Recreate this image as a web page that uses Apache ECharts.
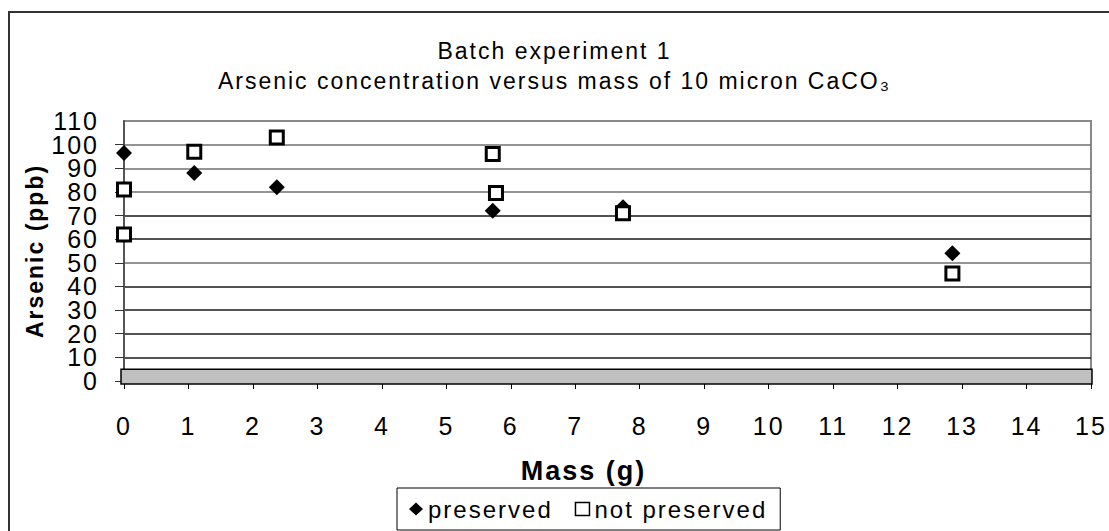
<!DOCTYPE html>
<html>
<head>
<meta charset="utf-8">
<script src="https://cdn.jsdelivr.net/npm/echarts@6/dist/echarts.min.js"></script>
<style>
  html, body { margin: 0; padding: 0; background: #fff; }
  #chart { width: 1109px; height: 531px; }
  /* Excel rendered the text with some extra tracking */
  #chart text { letter-spacing: 2px; }
</style>
</head>
<body>
<div id="chart"></div>
<script>
// masses (g) and arsenic (ppb)
const preservedMass = [0, 1.09, 2.37, 5.72, 7.74, 12.85];
const preservedArsenic = [96.5, 88, 82, 72, 73.5, 54];
const notPreservedMass = [0, 0, 1.09, 2.37, 5.72, 5.77, 7.74, 12.85];
const notPreservedArsenic = [81, 62, 97, 103, 96, 79.5, 71, 45.5];

const FONT = '"Liberation Sans", Arial, sans-serif';

function pairs(xs, ys) {
  return xs.map((x, i) => [x, ys[i]]);
}

const chart = echarts.init(document.getElementById('chart'), null, { renderer: 'svg' });

const titleStyle = {
  fontFamily: FONT, fontSize: 23, fontWeight: 'normal', color: '#000',
};

// the y labels sit closer than echarts allows, so even and odd ones go on two stacked axes
const yLabelStyle = {
  fontFamily: FONT,
  fontSize: 25,
  color: '#000',
  margin: 25,
  lineHeight: 20,
  padding: [6, 0, 0, 0],
};

const option = {
  animation: false,
  backgroundColor: '#fff',
  textStyle: { fontFamily: FONT, color: '#000' },
  title: [
    {
      text: 'Batch experiment 1',
      left: 'center',
      top: 34,
      padding: [5, 20, 5, 0],
      textStyle: titleStyle,
    },
    {
      text: 'Arsenic concentration versus mass of 10 micron CaCO₃',
      left: 'center',
      top: 64,
      padding: [5, 20, 5, 0],
      textStyle: titleStyle,
    },
  ],
  grid: {
    left: 124,
    right: 18,
    top: 121,
    bottom: 150,
    show: true,
    borderColor: '#8a8a8a',
    borderWidth: 2,
  },
  xAxis: {
    type: 'value',
    min: 0,
    max: 15,
    interval: 1,
    name: 'Mass (g)',
    nameLocation: 'middle',
    nameGap: 76,
    nameTextStyle: {
      fontFamily: FONT, fontSize: 27, fontWeight: 'bold', color: '#000', padding: [0, 48, 0, 0],
    },
    axisLine: { lineStyle: { color: '#000', width: 1 } },
    axisTick: { length: 8, lineStyle: { color: '#000' } },
    axisLabel: {
      fontFamily: FONT,
      fontSize: 25,
      color: '#000',
      margin: 32,
      showMinLabel: true,
      showMaxLabel: true,
    },
    splitLine: { show: false },
  },
  yAxis: [
    {
      type: 'value',
      position: 'left',
      min: 0,
      max: 110,
      interval: 10,
      name: 'Arsenic (ppb)',
      nameLocation: 'middle',
      nameGap: 74,
      nameRotate: 90,
      nameTextStyle: { fontFamily: FONT, fontSize: 23, fontWeight: 'bold', color: '#000' },
      axisLine: { show: true, lineStyle: { color: '#555', width: 2 } },
      axisTick: { show: true, length: 9, lineStyle: { color: '#333' } },
      axisLabel: {
        ...yLabelStyle,
        showMinLabel: true,
        showMaxLabel: false,
        formatter: (v) => (v % 20 === 0 ? String(v) : ''),
      },
      splitLine: {
        show: true,
        lineStyle: {
          width: 1.5,
          color: ['#000', '#1a1a1a', '#1a1a1a', '#1a1a1a', '#1a1a1a', '#707070',
            '#1a1a1a', '#1a1a1a', '#707070', '#707070', '#707070', '#8a8a8a'],
        },
      },
    },
    {
      type: 'value',
      position: 'left',
      offset: 0,
      min: 0,
      max: 110,
      interval: 10,
      axisLine: { show: false },
      axisTick: { show: false },
      axisLabel: {
        ...yLabelStyle,
        showMinLabel: false,
        showMaxLabel: true,
        formatter: (v) => (v % 20 === 10 ? String(v) : ''),
      },
      splitLine: { show: false },
    },
  ],
  legend: {
    left: 397,
    top: 488,
    // right padding makes room for the tracking that the layout does not see
    padding: [9, 39, 9, 12],
    borderColor: '#000',
    borderWidth: 1,
    itemWidth: 14,
    itemHeight: 13,
    itemGap: 40,
    textStyle: { fontFamily: FONT, fontSize: 24, color: '#000' },
    data: [
      { name: 'preserved', icon: 'diamond', itemStyle: { color: '#000' } },
      { name: 'not preserved', icon: 'rect', itemStyle: { color: '#fff', borderColor: '#000', borderWidth: 1.5 } },
    ],
  },
  series: [
    {
      name: 'preserved',
      type: 'scatter',
      symbol: 'diamond',
      symbolSize: [16, 16],
      itemStyle: { color: '#000', opacity: 1 },
      data: pairs(preservedMass, preservedArsenic),
      z: 3,
    },
    {
      name: 'not preserved',
      type: 'scatter',
      symbol: 'rect',
      symbolSize: 13,
      itemStyle: { color: '#fff', borderColor: '#000', borderWidth: 3, opacity: 1 },
      data: pairs(notPreservedMass, notPreservedArsenic),
      z: 4,
    },
  ],
};

chart.setOption(option);

// chart frame and the grey 3D floor under the plot, placed through the axes
const [floorLeft, floorBottom] = chart.convertToPixel({ gridIndex: 0 }, [0, 0]);
const [floorRight, floorTop] = chart.convertToPixel({ gridIndex: 0 }, [15, 5]);
chart.setOption({
  graphic: [
    {
      id: 'frame',
      type: 'rect',
      silent: true,
      z: -1,
      shape: { x: 9, y: 12, width: 1200, height: 600 },
      style: { fill: 'none', stroke: '#333', lineWidth: 2 },
    },
    {
      id: 'floor',
      type: 'rect',
      silent: true,
      z: 2,
      shape: {
        x: floorLeft - 3,
        y: floorTop,
        width: floorRight - floorLeft + 4,
        height: floorBottom - floorTop + 3,
      },
      style: { fill: '#c0c0c0', stroke: '#000', lineWidth: 1.5 },
    },
  ],
});
</script>
</body>
</html>
